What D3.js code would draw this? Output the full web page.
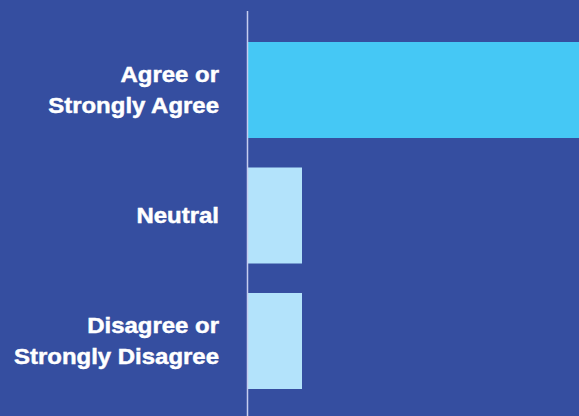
<!DOCTYPE html>
<html>
<head>
<meta charset="utf-8">
<script src="https://cdn.jsdelivr.net/npm/d3@7"></script>
<style>
  html, body { margin: 0; padding: 0; background: #354ea0; }
  svg { display: block; }
</style>
</head>
<body>
<svg id="chart" width="579" height="416"></svg>
<script>
// Survey response shares (percent)
const categories = ["agree", "neutral", "disagree"];
const values = [80, 10, 10];
const labelLines = [
  ["Agree or", "Strongly Agree"],
  ["Neutral"],
  ["Disagree or", "Strongly Disagree"]
];
const barColors = ["#45c8f5", "#b3e3fb", "#b3e3fb"];

const width = 579, height = 416;
const axisX = 248;

const svg = d3.select("#chart");

svg.append("rect")
  .attr("width", width).attr("height", height)
  .attr("fill", "#354ea0");

const y = d3.scaleBand()
  .domain(categories)
  .range([10, 421])
  .paddingInner(0.235)
  .paddingOuter(0.255);

const x = d3.scaleLinear()
  .domain([0, 100])
  .range([axisX, axisX + 540]);

svg.append("g")
  .selectAll("rect")
  .data(categories)
  .join("rect")
  .attr("x", x(0))
  .attr("y", d => y(d))
  .attr("width", (d, i) => x(values[i]) - x(0))
  .attr("height", y.bandwidth())
  .attr("fill", (d, i) => barColors[i]);

// Vertical baseline
svg.append("line")
  .attr("x1", axisX - 0.5).attr("x2", axisX - 0.5)
  .attr("y1", 11).attr("y2", height)
  .attr("stroke", "#c6cdf0")
  .attr("stroke-width", 1.5);

// Category labels, right-aligned against the baseline, in a heavy extended face
const lineGap = 31;
const labelRight = 219;
const stretch = 1.125;
const labels = svg.append("g")
  .attr("font-family", "'Liberation Sans', Arial, Helvetica, sans-serif")
  .attr("font-weight", 700)
  .attr("font-size", 21.3)
  .attr("fill", "#ffffff")
  .attr("stroke", "#ffffff")
  .attr("stroke-width", 0.45)
  .attr("text-anchor", "end");

categories.forEach((c, i) => {
  const lines = labelLines[i];
  const cy = y(c) + y.bandwidth() / 2;
  const capH = 15.3;
  const firstBaseline = cy + capH / 2 - (lines.length - 1) * lineGap / 2;
  const t = labels.append("text")
    .attr("transform", `translate(${labelRight},0) scale(${stretch},1)`);
  lines.forEach((ln, j) => {
    t.append("tspan")
      .attr("x", 0)
      .attr("y", firstBaseline + j * lineGap)
      .text(ln);
  });
});
</script>
</body>
</html>
